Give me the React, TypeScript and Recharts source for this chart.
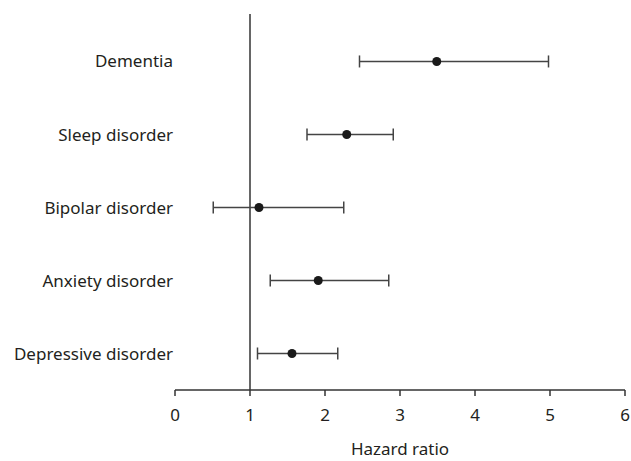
import React from "react";
import {
  ScatterChart, Scatter, XAxis, YAxis, ErrorBar, ReferenceLine,
} from "recharts";

const categories = ["Dementia", "Sleep disorder", "Bipolar disorder", "Anxiety disorder", "Depressive disorder"];
const hazardRatio = [3.49, 2.29, 1.12, 1.91, 1.56];
const lowerCI = [2.46, 1.76, 0.51, 1.27, 1.10];
const upperCI = [4.98, 2.91, 2.25, 2.85, 2.17];
const xTicks = [0, 1, 2, 3, 4, 5, 6];

const data = categories.map((name, i) => ({
  name,
  hr: hazardRatio[i],
  pos: categories.length - i,
  err: [hazardRatio[i] - lowerCI[i], upperCI[i] - hazardRatio[i]],
}));

const FONT = "'Noto Sans', sans-serif";
const INK = "#231f20";

export default function App() {
  return (
    <div style={{ position: "absolute", left: 0, top: 0, width: 631, height: 461, background: "#fff" }}>
      <ScatterChart width={631} height={461} margin={{ top: 14, right: 6, bottom: 0, left: 0 }}>
        <XAxis
          type="number"
          dataKey="hr"
          domain={[0, 6]}
          ticks={xTicks}
          interval={0}
          height={71}
          stroke="#333"
          strokeWidth={1.5}
          tickSize={6}
          tickMargin={13}
          tick={{ fontSize: 17, fill: INK, fontFamily: FONT }}
          label={{ value: "Hazard ratio", position: "insideBottom", offset: 6, fontSize: 17, fill: INK, fontFamily: FONT }}
        />
        <YAxis
          type="number"
          dataKey="pos"
          domain={[0.5, 5.65]}
          ticks={[1, 2, 3, 4, 5]}
          width={175}
          axisLine={false}
          tickLine={false}
          tickSize={0}
          tickMargin={2}
          tickFormatter={(v) => categories[categories.length - v] ?? ""}
          tick={{ fontSize: 17, fill: INK, fontFamily: FONT }}
        />
        <ReferenceLine x={1} stroke="#333" strokeWidth={1.5} />
        <Scatter data={data} fill="#1a1a1a" isAnimationActive={false} shape={(p: any) => <circle cx={p.cx} cy={p.cy} r={4.5} fill="#1a1a1a" />}>
          <ErrorBar dataKey="err" direction="x" width={6} stroke="#444" strokeWidth={1.5} />
        </Scatter>
      </ScatterChart>
    </div>
  );
}
